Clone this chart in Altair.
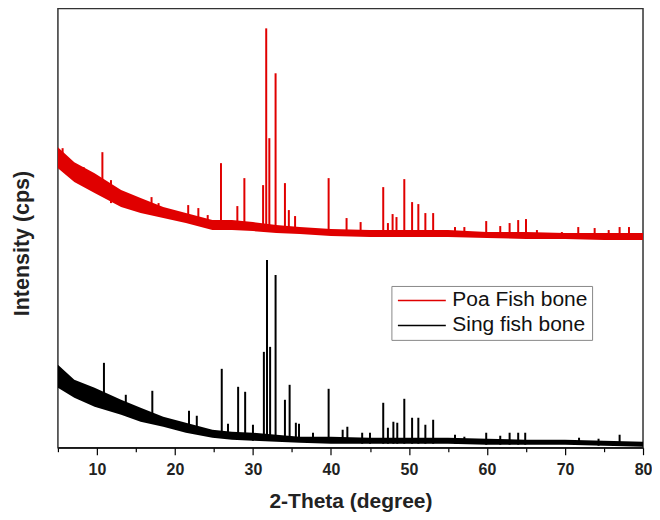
import altair as alt
import pandas as pd

SERIES = ["Poa Fish bone", "Sing fish bone"]
COLORS = ["#e00000", "#000000"]

# noisy background band (x, top and bottom of band), arbitrary intensity units
band_x = [5, 7.1, 9.7, 13.1, 15.6, 18.5, 21.4, 24.8, 27.3, 30, 33, 36, 40, 45, 50, 55, 60, 65, 70, 75, 80]
poa_hi = [301, 286, 275, 258, 250, 241, 235, 228, 228, 226, 223, 221, 219, 218, 218, 218, 216, 216, 215, 215, 215]
poa_lo = [280, 266, 255, 241, 235, 230, 225, 218, 218, 217, 215, 214, 212, 211, 211, 211, 210, 209, 209, 208, 208]
sing_hi = [83, 68, 60, 48, 40, 31, 25, 18, 16, 15, 13, 11, 11, 10, 10, 10, 9, 8, 8, 7, 6]
sing_lo = [60, 50, 41, 33, 26, 21, 15, 10, 8, 7, 6, 5, 4, 4, 4, 4, 3, 3, 3, 2, 1]

# diffraction peaks: position, peak top, foot
poa_px = [5.6, 7.5, 8.3, 10.7, 11.8, 17.0, 17.9, 21.7, 23.0, 24.2, 25.9, 28.0, 28.9, 31.3, 31.7,
          32.1, 32.9, 34.1, 34.6, 35.4, 39.7, 42.0, 43.8, 46.7, 47.3, 47.9, 48.4, 49.4, 50.4, 51.2,
          52.1, 53.1, 55.9, 57.1, 59.9, 61.7, 62.9, 64.0, 65.0, 66.4, 69.6, 71.7, 73.8, 75.6, 77.0, 78.2]
poa_top = [300, 283, 281, 296, 268, 251, 245, 243, 240, 233, 285, 242, 270, 263, 420,
           310, 375, 265, 238, 232, 270, 230, 226, 261, 225, 234, 231, 269, 246, 244,
           235, 235, 221, 221, 227, 222, 225, 228, 229, 218, 216, 221, 220, 218, 221, 221]
poa_foot = [285, 270, 265, 258, 245, 235, 232, 227, 225, 222, 220, 219, 219, 218, 218,
            218, 218, 217, 217, 216, 215, 214, 213, 213, 213, 213, 213, 213, 213, 213,
            212, 212, 212, 212, 211, 211, 211, 211, 211, 210, 210, 210, 210, 209, 209, 209]

sing_px = [10.9, 13.7, 17.1, 21.8, 22.8, 26.0, 26.8, 28.1, 29.0, 30.0, 31.4, 31.8, 32.2, 32.9, 34.1,
           34.7, 35.5, 35.9, 37.7, 39.7, 41.5, 42.1, 44.0, 45.0, 46.7, 47.3, 48.0, 48.5, 49.4, 50.4,
           51.2, 52.1, 53.1, 55.9, 57.1, 59.9, 61.7, 62.9, 64.0, 64.9, 71.8, 74.3, 77.0]
sing_top = [85, 53, 57, 37, 32, 79, 24, 61, 56, 23, 96, 188, 101, 173, 48,
            63, 25, 24, 15, 59, 18, 21, 15, 15, 45, 20, 26, 25, 49, 30,
            30, 23, 28, 13, 11, 15, 12, 15, 15, 15, 10, 9, 13]
sing_foot = [45, 38, 26, 18, 16, 12, 10, 9, 8, 7, 7, 7, 7, 7, 6,
             6, 6, 6, 5, 5, 5, 5, 4, 4, 4, 4, 4, 4, 4, 4,
             4, 4, 4, 4, 4, 3, 3, 3, 3, 3, 3, 2, 2]

x_ticks = [5, 10, 15, 20, 25, 30, 35, 40, 45, 50, 55, 60, 65, 70, 75, 80]

band = pd.concat([
    pd.DataFrame({"x": band_x, "hi": poa_hi, "lo": poa_lo, "series": SERIES[0]}),
    pd.DataFrame({"x": band_x, "hi": sing_hi, "lo": sing_lo, "series": SERIES[1]}),
])
peaks = pd.concat([
    pd.DataFrame({"x": poa_px, "top": poa_top, "foot": poa_foot, "series": SERIES[0]}),
    pd.DataFrame({"x": sing_px, "top": sing_top, "foot": sing_foot, "series": SERIES[1]}),
])

xscale = alt.Scale(domain=[5, 80], nice=False, zero=False)
yscale = alt.Scale(domain=[0, 440], nice=False)
cscale = alt.Scale(domain=SERIES, range=COLORS)

FONT = "Liberation Sans"

legend = alt.Legend(
    title=None, orient="none", legendX=334, legendY=278,
    symbolType="M-2,0H10", symbolSize=64, symbolStrokeWidth=1.5,
    labelFontSize=21, labelFont=FONT, labelColor="#111",
    rowPadding=3, padding=4, strokeColor="#888", fillColor="white",
    labelOffset=36,
)

xaxis = alt.Axis(
    values=x_ticks, tickCount=20, title="2-Theta (degree)",
    labelExpr="datum.value % 10 === 0 ? datum.label : ''",
    labelOverlap=False,
    tickSize=7,
    tickDash={"condition": {"test": "datum.value % 10 !== 0", "value": [4, 20]}, "value": [7, 20]},
    tickColor="#000", domainColor="#000", tickWidth=1.2, domainWidth=1.2,
    labelFont=FONT, labelFontWeight="bold", labelFontSize=16, labelColor="#222",
    labelPadding=7, titleFont=FONT, titleFontWeight="bold", titleFontSize=21,
    titleColor="#222", titlePadding=13, grid=False, labelFlush=False,
)
yaxis = alt.Axis(
    title="Intensity (cps)", labels=False, ticks=False, domain=False, grid=False,
    titleFont=FONT, titleFontWeight="bold", titleFontSize=21.5, titleColor="#222",
    titlePadding=24, titleY=235,
)

area = alt.Chart(band).mark_area(opacity=1, interpolate="linear").encode(
    x=alt.X("x:Q", scale=xscale, axis=xaxis),
    y=alt.Y("hi:Q", scale=yscale, axis=yaxis),
    y2="lo:Q",
    color=alt.Color("series:N", scale=cscale, legend=legend),
    detail="series:N",
)
rules = alt.Chart(peaks).mark_rule(strokeWidth=2).encode(
    x="x:Q",
    y="foot:Q",
    y2="top:Q",
    color=alt.Color("series:N", scale=cscale, legend=legend),
)

chart = alt.layer(area, rules).properties(
    width=586, height=440,
    padding={"left": 4, "top": 0, "right": 0, "bottom": 0},
).configure_view(stroke="#333", strokeWidth=1.5)

chart.save("out.html", embed_options={"renderer": "svg", "actions": False})
